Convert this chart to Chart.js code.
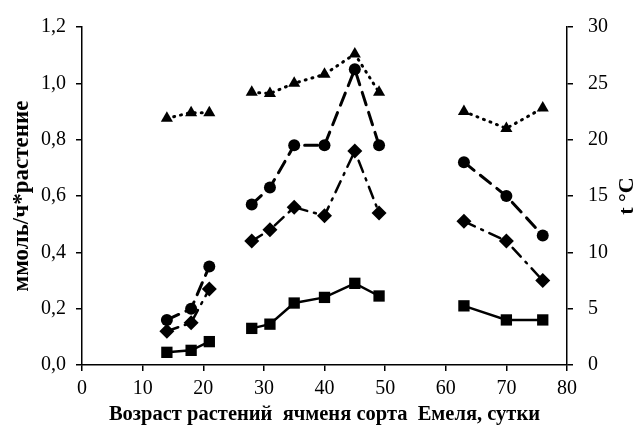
<!DOCTYPE html>
<html>
<head>
<meta charset="utf-8">
<script src="https://cdn.jsdelivr.net/npm/chart.js@4"></script>
<style>
    body { margin: 0; background: #fff; }
    #wrap { width: 636px; height: 432px; }
</style>
</head>
<body>
<div id="wrap"><canvas id="chart" width="636" height="432"></canvas></div>
<script>
// days of plant age; null = break in the line
const days = [14, 18, 21, null, 28, 31, 35, 40, 45, 49, null, 63, 70, 76];
const squares = [0.045, 0.052, 0.083, null, 0.13, 0.145, 0.22, 0.24, 0.29, 0.245, null, 0.21, 0.16, 0.16];
const diamonds = [0.12, 0.15, 0.27, null, 0.44, 0.48, 0.56, 0.53, 0.76, 0.54, null, 0.51, 0.44, 0.30];
const circles = [0.16, 0.20, 0.35, null, 0.57, 0.63, 0.78, 0.78, 1.05, 0.78, null, 0.72, 0.60, 0.46];
const temperature = [21.9, 22.4, 22.4, null, 24.2, 24.1, 25.0, 25.8, 27.6, 24.2, null, 22.5, 21.0, 22.8];

const serif = '"Liberation Serif", "Times New Roman", serif';

function pts(vals) {
    return days.map((d, i) => ({ x: d === null ? (days[i - 1] + days[i + 1]) / 2 : d, y: vals[i] }));
}

function series(vals, style, dash, width, radius, axis) {
    return {
        data: pts(vals),
        yAxisID: axis || 'y',
        borderColor: '#000',
        backgroundColor: '#000',
        borderWidth: width,
        borderDash: dash,
        borderCapStyle: 'round',
        pointStyle: style,
        pointRadius: radius,
        pointBorderWidth: 0,
        spanGaps: false,
        tension: 0
    };
}

// right axis title reads bottom-to-top like the left one
const rightTitle = {
    id: 'rightTitle',
    afterDraw(chart) {
        const { ctx, chartArea } = chart;
        ctx.save();
        ctx.translate(627, (chartArea.top + chartArea.bottom) / 2);
        ctx.rotate(-Math.PI / 2);
        ctx.font = 'bold 22px ' + serif;
        ctx.fillStyle = '#000';
        ctx.textAlign = 'center';
        ctx.textBaseline = 'middle';
        ctx.fillText('t °C', 0, 0);
        ctx.restore();
    }
};

const axisCommon = {
    border: { display: true, color: '#000', width: 1.5 },
    grid: { display: true, drawOnChartArea: false, drawTicks: true, tickLength: 6, color: '#000', lineWidth: 1.5 },
    ticks: { color: '#000', font: { family: serif, size: 20 } }
};

new Chart(document.getElementById('chart'), {
    type: 'line',
    data: {
        datasets: [
            series(squares, 'rect', [], 2.5, 8),
            series(diamonds, 'rectRot', [12, 7, 2, 7], 2.5, 7.5),
            series(circles, 'circle', [13, 8], 3, 6),
            series(temperature, 'triangle', [1, 6], 3, 7, 'y1')
        ]
    },
    options: {
        responsive: false,
        animation: false,
        layout: { padding: { left: 0, right: 0, top: 22, bottom: 0 } },
        plugins: { legend: { display: false }, tooltip: { enabled: false } },
        scales: {
            x: {
                type: 'linear', min: 0, max: 80,
                ...axisCommon,
                ticks: { ...axisCommon.ticks, stepSize: 10, padding: 6 },
                afterFit: s => { s.height = 67; },
                title: { display: true, text: 'Возраст растений  ячменя сорта  Емеля, сутки', color: '#000',
                    font: { family: serif, size: 20.5, weight: 'bold' }, padding: { top: 0, bottom: 5 } }
            },
            y: {
                position: 'left', min: 0, max: 1.2,
                ...axisCommon,
                ticks: { ...axisCommon.ticks, stepSize: 0.2, padding: 10, callback: v => v.toFixed(1).replace('.', ',') },
                afterFit: s => { s.width = 82; },
                title: { display: true, text: 'ммоль/ч*растение', color: '#000',
                    font: { family: serif, size: 23, weight: 'bold' }, padding: { top: 8, bottom: 0 } }
            },
            y1: {
                position: 'right', min: 0, max: 30,
                ...axisCommon,
                ticks: { ...axisCommon.ticks, stepSize: 5, padding: 15 },
                afterFit: s => { s.width = 69; }
            }
        }
    },
    plugins: [rightTitle]
});
</script>
</body>
</html>
